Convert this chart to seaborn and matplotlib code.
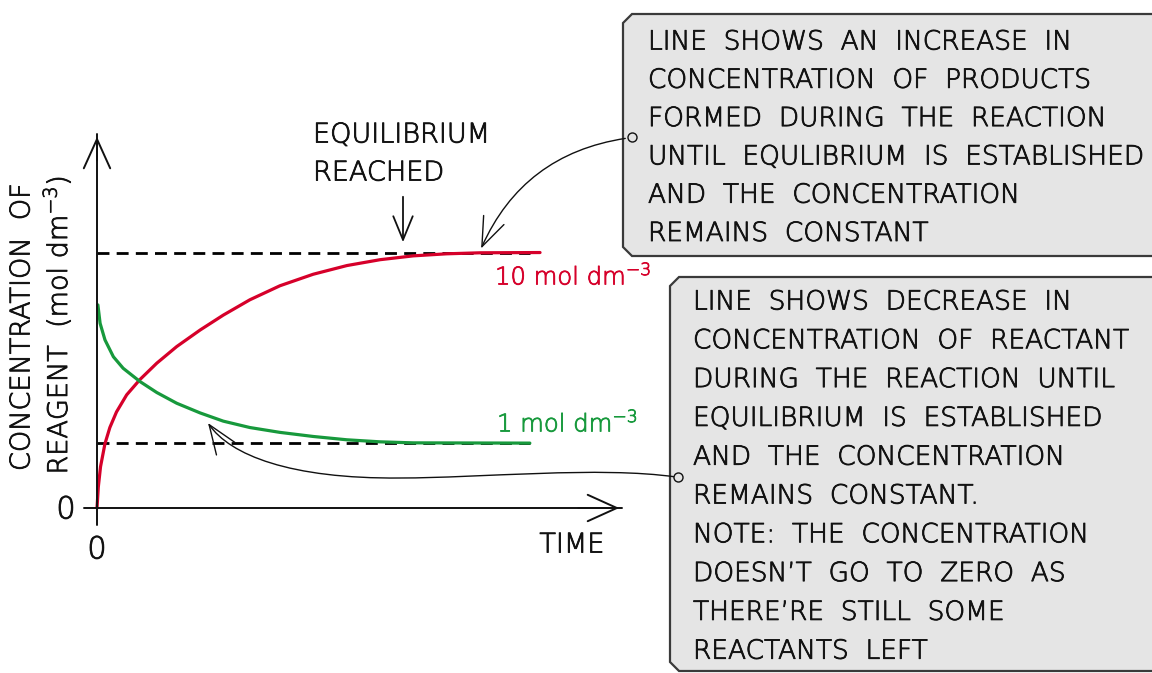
import numpy as np
import pandas as pd
import matplotlib
matplotlib.use("Agg")
import matplotlib.pyplot as plt
import matplotlib.patheffects as pe
import seaborn as sns
from matplotlib import font_manager
from matplotlib.patches import Polygon, FancyArrowPatch
from matplotlib.lines import Line2D
from matplotlib.path import Path

# values (arbitrary time / concentration units)
red_time = [0.0, 0.03, 0.08, 0.18, 0.29, 0.44, 0.67, 0.97, 1.35, 1.80, 2.33, 2.85,
            3.45, 4.13, 4.88, 5.64, 6.39, 7.14, 7.89, 8.65, 10.0]
red_conc = [0.0, 0.83, 1.62, 2.52, 3.15, 3.76, 4.43, 5.03, 5.67, 6.32, 6.97, 7.55,
            8.15, 8.70, 9.15, 9.49, 9.72, 9.87, 9.95, 9.99, 10.0]
green_time = [0.02, 0.07, 0.18, 0.37, 0.59, 0.97, 1.35, 1.80, 2.33, 2.85, 3.45, 4.13,
              4.88, 5.64, 6.39, 7.14, 9.77]
green_conc = [7.95, 7.23, 6.58, 5.92, 5.47, 4.95, 4.52, 4.10, 3.72, 3.40, 3.15, 2.96,
              2.80, 2.67, 2.59, 2.55, 2.54]
eq_levels = [10.0, 2.53]
dash_end = 9.77

box1_lines = ["LINE  SHOWS  AN  INCREASE  IN",
              "CONCENTRATION  OF  PRODUCTS",
              "FORMED  DURING  THE  REACTION",
              "UNTIL  EQULIBRIUM  IS  ESTABLISHED",
              "AND  THE  CONCENTRATION",
              "REMAINS  CONSTANT"]
box2_lines = ["LINE  SHOWS  DECREASE  IN",
              "CONCENTRATION  OF  REACTANT",
              "DURING  THE  REACTION  UNTIL",
              "EQUILIBRIUM  IS  ESTABLISHED",
              "AND  THE  CONCENTRATION",
              "REMAINS  CONSTANT.",
              "NOTE:  THE  CONCENTRATION",
              "DOESN\u2019T  GO  TO  ZERO  AS",
              "THERE\u2019RE  STILL  SOME",
              "REACTANTS  LEFT"]

RED = "#d6002a"
GREEN = "#17993c"
INK = "#111111"
BOX = "#e5e5e5"

sns.set_theme(style="white")
plt.rcParams['font.family'] = ['DejaVu Sans']
plt.rcParams['mathtext.default'] = 'regular'

# the sketch uses thin lettering, take the extra-light cut when it is installed
thin = [f for f in font_manager.fontManager.ttflist
        if f.name == "DejaVu Sans" and "ExtraLight" in f.fname]
WT = 200 if thin else "normal"

W, H = 1152, 673
fig = plt.figure(figsize=(W / 100, H / 100), dpi=100)


def px(x, y):
    # pixel position (from top-left) -> figure fraction
    return (x / W, 1 - y / H)


def label(x, y, s, color=INK, size=19.5, **kw):
    # thin font plus a faint stroke gives the pen-like weight of the sketch
    fx = [pe.withStroke(linewidth=0.6, foreground=color)] if thin else None
    return fig.text(*px(x, y), s, fontsize=size, color=color, fontweight=WT,
                    va="center", path_effects=fx, **kw)


ax = fig.add_axes([97 / W, (H - 508) / H, 525 / W, 374 / H])
ax.set_xlim(0, 11.85)
ax.set_ylim(0, 14.64)
ax.axis("off")

df = pd.concat([
    pd.DataFrame({"time": red_time, "conc": red_conc, "species": "product"}),
    pd.DataFrame({"time": green_time, "conc": green_conc, "species": "reactant"}),
])
sns.lineplot(data=df, x="time", y="conc", hue="species",
             palette={"product": RED, "reactant": GREEN},
             lw=2.3, legend=False, ax=ax, estimator=None)
for ln in ax.lines:
    ln.set_clip_on(False)
    ln.set_solid_joinstyle("round")

for lvl in eq_levels:
    ax.plot([0, dash_end], [lvl, lvl], color="black", lw=2.0,
            dashes=(4.3, 2.6), zorder=1)

# axes drawn as open arrows
ax.plot([-0.3, 11.85], [0, 0], color=INK, lw=1.4, clip_on=False)
ax.plot([0, 0], [-0.65, 14.64], color=INK, lw=1.4, clip_on=False)
axis_head = "->,head_length=21,head_width=9.5"
ax.add_patch(FancyArrowPatch((10.8, 0), (11.85, 0), arrowstyle=axis_head,
                             mutation_scale=1, color=INK, lw=1.4, clip_on=False))
ax.add_patch(FancyArrowPatch((0, 13.5), (0, 14.64), arrowstyle=axis_head,
                             mutation_scale=1, color=INK, lw=1.4, clip_on=False))

label(66, 510, "0", size=22, ha="center")
label(97, 550, "0", size=22, ha="center")
label(572, 545, "TIME", size=19.5, ha="center")
label(22, 327, "CONCENTRATION  OF", rotation=90, ha="center")
label(57, 325, "REAGENT  (mol dm$^{-3}$)", rotation=90, ha="center")

label(313, 135, "EQUILIBRIUM", ha="left")
label(313, 173, "REACHED", ha="left")
fig.add_artist(FancyArrowPatch(px(403, 194), px(403, 245), transform=fig.transFigure,
                               arrowstyle="->,head_length=17,head_width=7",
                               mutation_scale=1, color=INK, lw=1.3))

label(495, 276, "10 mol dm$^{-3}$", color=RED, size=17.5, ha="left")
label(497, 423, "1 mol dm$^{-3}$", color=GREEN, size=17.5, ha="left")


def note_box(x0, y0, y1, lines, tx, ty, pitch):
    c = 9
    x1 = W + 20
    pts = [px(x0 + c, y0), px(x1, y0), px(x1, y1), px(x0 + c, y1),
           px(x0, y1 - c), px(x0, y0 + c)]
    fig.add_artist(Polygon(pts, closed=True, transform=fig.transFigure,
                           fc=BOX, ec="#3a3a3a", lw=1.6))
    for i, line in enumerate(lines):
        label(tx, ty + i * pitch, line, size=19, ha="left")


note_box(623, 14, 256, box1_lines, 648, 42, 38.3)
note_box(670, 277, 671, box2_lines, 693, 302, 38.8)

# connectors from the notes to the curves
conn_head = "->,head_length=21,head_width=8"
fig.add_artist(FancyArrowPatch(px(628, 138), px(480, 251), transform=fig.transFigure,
                               connectionstyle="arc3,rad=0.28", arrowstyle=conn_head,
                               mutation_scale=1, color=INK, lw=1.0))
wave = Path([px(676, 477), px(600, 466), px(480, 478), px(400, 478),
             px(290, 479), px(230, 455), px(208, 423)],
            [Path.MOVETO] + [Path.CURVE4] * 6)
fig.add_artist(FancyArrowPatch(path=wave, transform=fig.transFigure,
                               arrowstyle=conn_head, mutation_scale=1, color=INK, lw=1.0))
for cx, cy in [(632, 137), (678, 477)]:
    fig.add_artist(Line2D([px(cx, cy)[0]], [px(cx, cy)[1]], transform=fig.transFigure,
                          marker="o", ms=6.5, mfc=BOX, mec=INK, mew=1.0, zorder=5))

fig.savefig("out.png", dpi=100, facecolor="white")
